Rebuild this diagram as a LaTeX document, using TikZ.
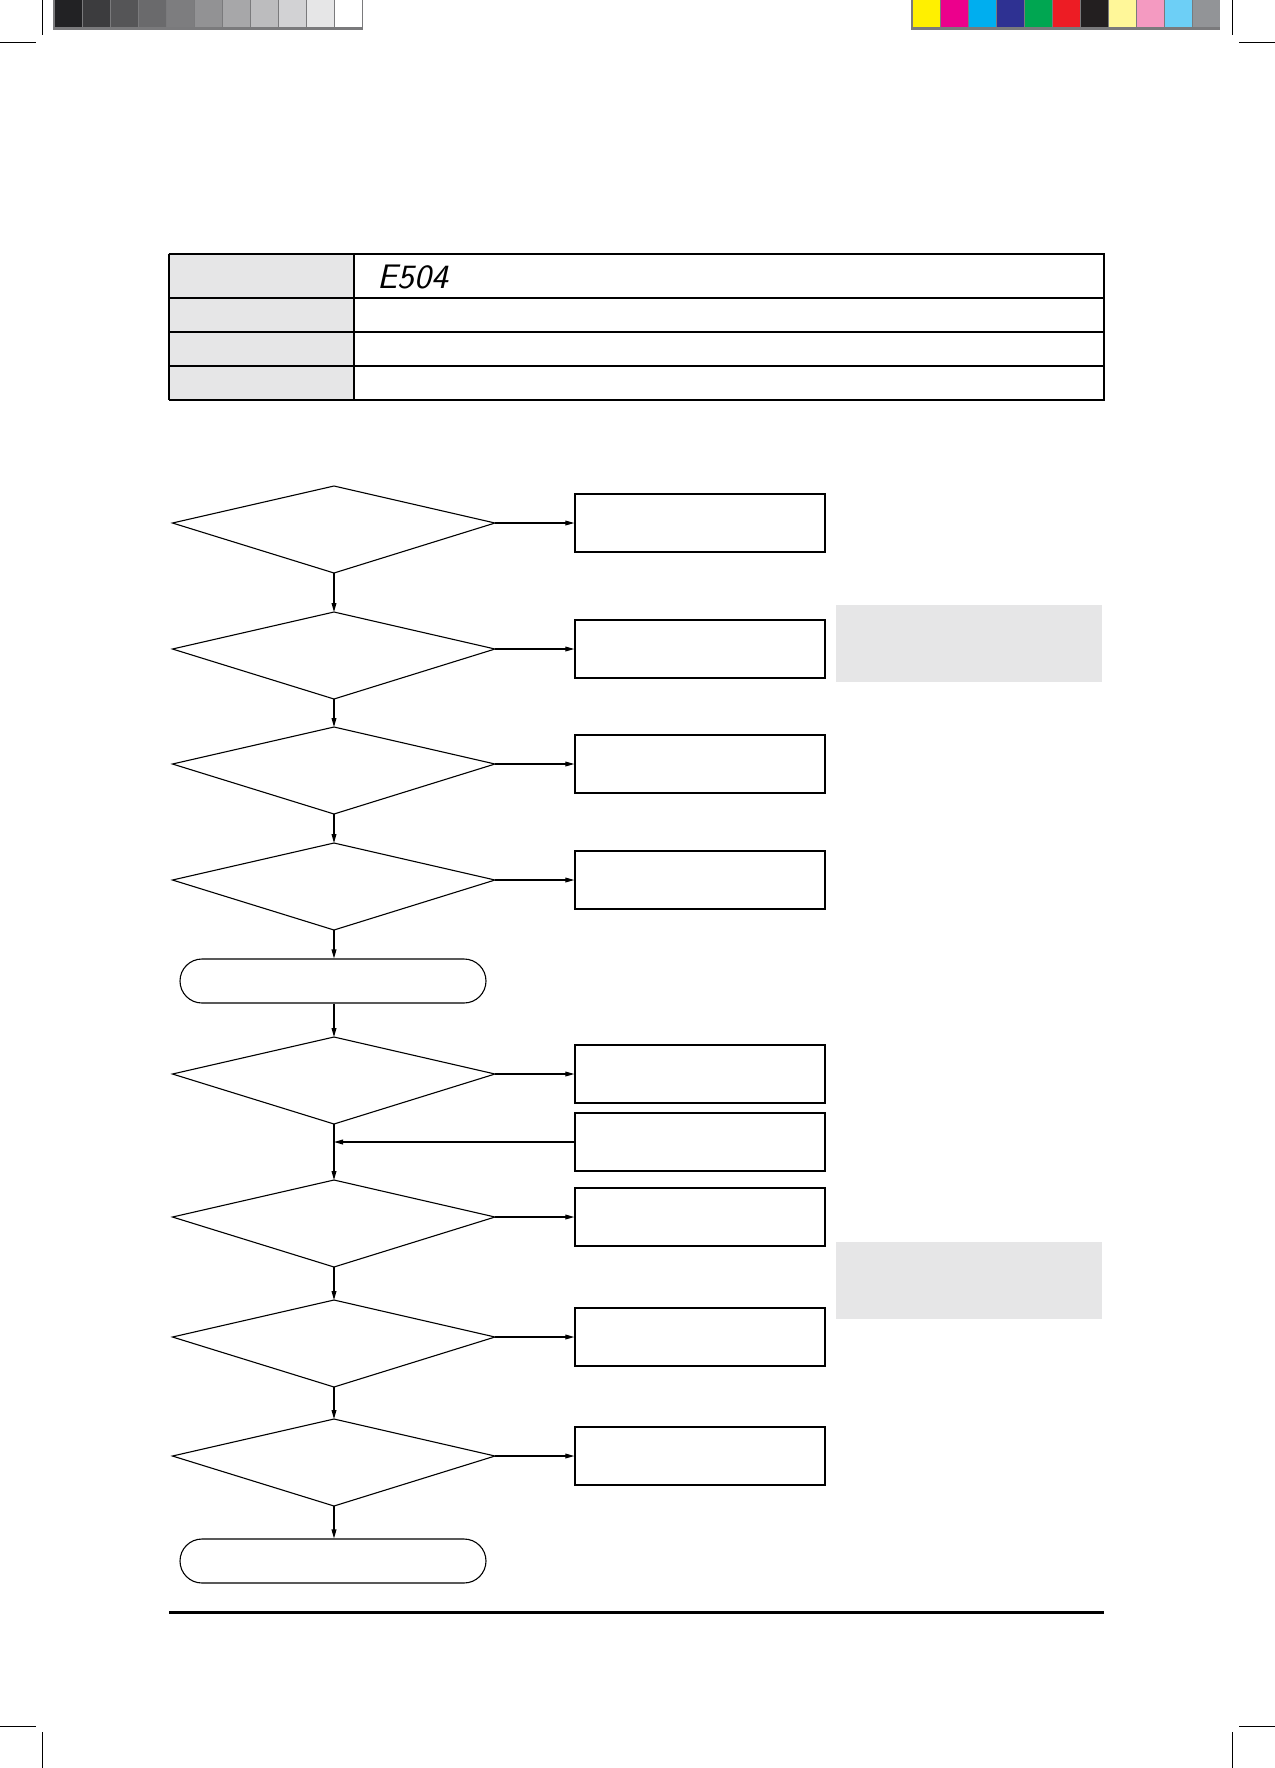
\documentclass[tikz,border=0pt]{standalone}
\usetikzlibrary{arrows.meta}
\definecolor{panelgray}{RGB}{230,230,231}
\definecolor{framegray}{RGB}{122,122,124}
\newcommand\drawdia[2]{%
  \coordinate (#1n) at (334,#2);
  \coordinate (#1e) at (495,#2+37);
  \coordinate (#1s) at (334,#2+87);
  \coordinate (#1w) at (172.5,#2+37);
  \draw[dline] (#1n) -- (#1e) -- (#1s) -- (#1w) -- cycle;}
\begin{document}
\begin{tikzpicture}[x=0.5pt,y=-0.5pt,
  dline/.style={line width=0.55pt},
  arr/.style={line width=0.55pt,-{Triangle[length=4.5pt,width=2.4pt]}},
  fbox/.style={draw,line width=0.7pt,minimum width=125pt,minimum height=29pt,inner sep=0pt},
  term/.style={draw,line width=0.55pt,rounded corners=11pt,minimum width=153pt,minimum height=22pt,inner sep=0pt},
  shade/.style={fill=panelgray,minimum width=133pt,minimum height=38.5pt,inner sep=0pt},
  crop/.style={line width=0.5pt}]
\useasboundingbox (0,0) rectangle (1275,1768);
% colour bars
\fill[framegray] (53,0) rectangle (363,30);
\foreach \c [count=\i from 0] in {{34,34,36},{60,60,62},{85,85,87},{106,106,108},{125,125,127},{146,146,148},{167,167,169},{188,188,190},{210,210,212},{230,230,231},{255,255,255}}{
  \definecolor{sw}{RGB}{\c}
  \fill[sw] (55+\i*28,0) rectangle (55+\i*28+26.5,27);}
\fill[framegray] (911,0) rectangle (1220,30);
\foreach \c [count=\i from 0] in {{255,240,0},{236,0,140},{0,174,239},{46,49,146},{0,166,81},{237,28,36},{35,31,32},{255,247,153},{244,154,193},{109,207,246},{146,148,151}}{
  \definecolor{sw}{RGB}{\c}
  \fill[sw] (913+\i*28,0) rectangle (913+\i*28+26.5,27);}
% crop marks
\draw[crop] (42,0) -- (42,35);
\draw[crop] (0,42) -- (36,42);
\draw[crop] (1232,0) -- (1232,35);
\draw[crop] (1239,42) -- (1275,42);
\draw[crop] (42,1732) -- (42,1768);
\draw[crop] (0,1726) -- (36,1726);
\draw[crop] (1232,1732) -- (1232,1768);
\draw[crop] (1239,1726) -- (1275,1726);
% table
\fill[panelgray] (169,254) rectangle (354,400);
\draw[line width=0.6pt] (169,298) -- (1104,298) (169,332) -- (1104,332) (169,366) -- (1104,366)
  (354,254) -- (354,400) (169,254) -- (169,400) (1104,254) -- (1104,400);
\draw[line width=1.4pt] (168.5,254) -- (1104.5,254) (168.5,400) -- (1104.5,400);
\node[font=\fontsize{17}{17}\selectfont\sffamily\itshape,inner sep=0pt,xscale=1.05] (code) at (413,277) {E504};
% grey panels
\node[shade] (g1) at (969,643.5) {};
\node[shade] (g2) at (969,1280.5) {};
% diamonds
\drawdia{d1}{486}
\drawdia{d2}{612}
\drawdia{d3}{727}
\drawdia{d4}{843}
\drawdia{d5}{1037}
\drawdia{d6}{1180}
\drawdia{d7}{1300}
\drawdia{d8}{1419}
% boxes
\node[fbox] (b1) at (700,523) {};
\node[fbox] (b2) at (700,649) {};
\node[fbox] (b3) at (700,764) {};
\node[fbox] (b4) at (700,880) {};
\node[fbox] (b5) at (700,1074) {};
\node[fbox] (b6) at (700,1142) {};
\node[fbox] (b7) at (700,1217) {};
\node[fbox] (b8) at (700,1337) {};
\node[fbox] (b9) at (700,1456) {};
% terminals
\node[term] (t1) at (333,981) {};
\node[term] (t2) at (333,1561) {};
% connectors
\draw[arr] (d1e) -- (b1.west);
\draw[arr] (d2e) -- (b2.west);
\draw[arr] (d3e) -- (b3.west);
\draw[arr] (d4e) -- (b4.west);
\draw[arr] (d5e) -- (b5.west);
\draw[arr] (d6e) -- (b7.west);
\draw[arr] (d7e) -- (b8.west);
\draw[arr] (d8e) -- (b9.west);
\draw[arr] (b6.west) -- (b6.west -| d5s);
\draw[arr] (d1s) -- (d2n);
\draw[arr] (d2s) -- (d3n);
\draw[arr] (d3s) -- (d4n);
\draw[arr] (d4s) -- (d4s |- t1.north);
\draw[arr] (d5n |- t1.south) -- (d5n);
\draw[arr] (d5s) -- (d6n);
\draw[arr] (d6s) -- (d7n);
\draw[arr] (d7s) -- (d8n);
\draw[arr] (d8s) -- (d8s |- t2.north);
% bottom rule
\draw[line width=1.5pt] (169,1612) -- (1104,1612);
\end{tikzpicture}
\end{document}
